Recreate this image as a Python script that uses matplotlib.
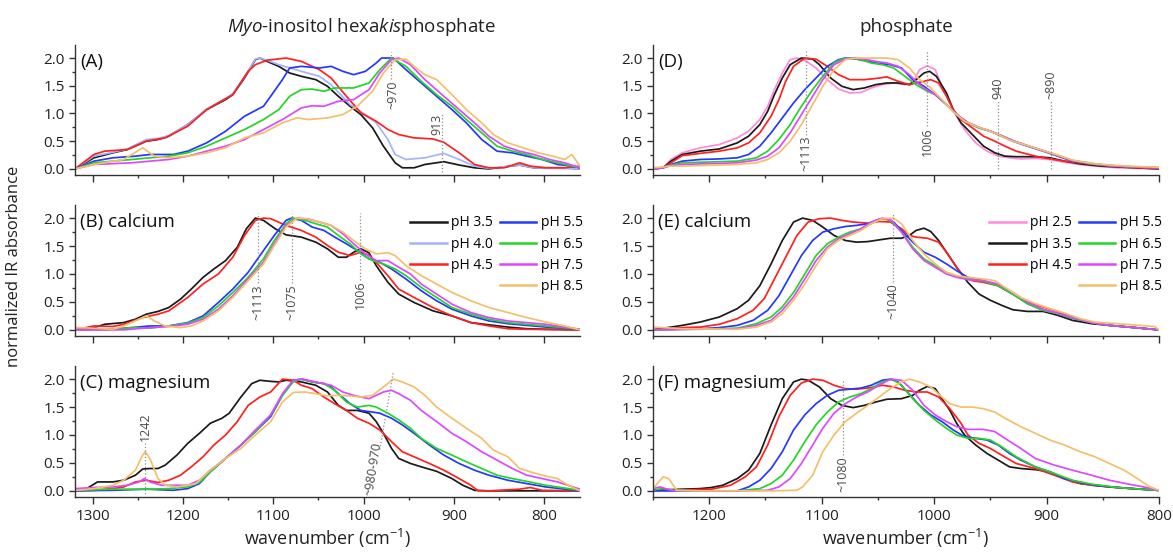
import matplotlib
matplotlib.use("Agg")
import matplotlib.pyplot as plt
from matplotlib.lines import Line2D
from matplotlib.ticker import MultipleLocator

plt.rcParams["font.family"] = ["Open Sans", "DejaVu Sans"]
plt.rcParams["mathtext.fontset"] = "custom"
plt.rcParams["mathtext.rm"] = "Open Sans"
plt.rcParams["mathtext.it"] = "Open Sans:italic"

# Spectra: (wavenumber cm-1, normalized IR absorbance)

# (A) myo-inositol hexakisphosphate
A_PH35 = [(1320, 0), (1299, 0.2), (1278, 0.29), (1262, 0.35), (1241, 0.5), (1228, 0.53), (1216, 0.59),
          (1195, 0.8), (1174, 1.07), (1153, 1.25), (1145, 1.34), (1132, 1.64), (1120, 1.97), (1115, 2.0),
          (1107, 1.94), (1094, 1.85), (1082, 1.73), (1069, 1.67), (1053, 1.61), (1040, 1.49), (1028, 1.31),
          (1015, 1.13), (1003, 0.98), (990, 0.74), (978, 0.41), (965, 0.11), (957, 0.02), (944, 0.02),
          (932, 0.08), (911, 0.13), (894, 0.07), (877, 0.02), (861, 0.0), (827, 0.07), (811, 0.02),
          (778, 0.02), (760, 0.0)]
A_PH40 = [(1320, 0), (1299, 0.23), (1278, 0.3), (1262, 0.36), (1241, 0.53), (1228, 0.55), (1216, 0.6),
          (1195, 0.8), (1174, 1.08), (1153, 1.27), (1145, 1.36), (1132, 1.66), (1120, 1.98), (1115, 2.0),
          (1107, 1.96), (1094, 1.88), (1069, 1.76), (1049, 1.67), (1036, 1.52), (1015, 1.16), (998, 0.98),
          (986, 0.83), (973, 0.53), (965, 0.26), (953, 0.17), (932, 0.2), (911, 0.28), (894, 0.17),
          (877, 0.05), (861, 0.01), (827, 0.07), (811, 0.02), (760, 0.0)]
A_PH45 = [(1320, 0), (1299, 0.26), (1287, 0.32), (1262, 0.35), (1241, 0.5), (1220, 0.56), (1195, 0.77),
          (1174, 1.07), (1145, 1.34), (1128, 1.76), (1120, 1.88), (1107, 1.96), (1086, 2.0), (1069, 1.94),
          (1049, 1.79), (1036, 1.64), (1019, 1.31), (1003, 1.01), (986, 0.86), (973, 0.71), (961, 0.62),
          (944, 0.56), (923, 0.54), (911, 0.48), (894, 0.29), (877, 0.08), (861, 0.02), (844, 0.02),
          (827, 0.11), (815, 0.05), (798, 0.02), (777, 0.02), (760, 0.05)]
A_PH55 = [(1320, 0), (1299, 0.14), (1278, 0.2), (1253, 0.23), (1237, 0.26), (1211, 0.26), (1195, 0.32),
          (1174, 0.47), (1153, 0.68), (1132, 0.95), (1111, 1.13), (1103, 1.31), (1090, 1.61), (1082, 1.82),
          (1069, 1.85), (1049, 1.82), (1036, 1.85), (1023, 1.76), (1011, 1.7), (998, 1.76), (986, 1.91),
          (980, 2.0), (967, 2.0), (953, 1.79), (936, 1.55), (919, 1.31), (902, 1.07), (886, 0.83),
          (869, 0.53), (852, 0.32), (835, 0.29), (819, 0.23), (802, 0.17), (785, 0.08), (769, 0.05),
          (760, 0.02)]
A_PH65 = [(1320, 0), (1299, 0.11), (1257, 0.17), (1216, 0.23), (1195, 0.29), (1174, 0.41), (1153, 0.56),
          (1132, 0.71), (1111, 0.89), (1094, 1.07), (1082, 1.31), (1069, 1.43), (1057, 1.44), (1044, 1.4),
          (1032, 1.46), (1011, 1.46), (994, 1.55), (982, 1.79), (969, 2.0), (953, 1.85), (936, 1.58),
          (919, 1.34), (902, 1.13), (886, 0.89), (869, 0.65), (852, 0.41), (835, 0.32), (819, 0.26),
          (802, 0.17), (785, 0.11), (760, 0.02)]
A_PH75 = [(1320, 0), (1299, 0.08), (1257, 0.11), (1216, 0.17), (1195, 0.23), (1174, 0.32), (1153, 0.41),
          (1132, 0.53), (1111, 0.71), (1090, 0.89), (1069, 1.1), (1057, 1.14), (1044, 1.13), (1028, 1.22),
          (1011, 1.25), (994, 1.43), (982, 1.73), (969, 1.97), (961, 2.0), (948, 1.88), (932, 1.61),
          (911, 1.31), (894, 1.07), (877, 0.83), (861, 0.59), (844, 0.41), (827, 0.32), (811, 0.26),
          (794, 0.17), (777, 0.11), (760, 0.02)]
A_PH85 = [(1320, 0), (1299, 0.08), (1266, 0.17), (1245, 0.38), (1232, 0.23), (1216, 0.2), (1195, 0.23),
          (1174, 0.29), (1153, 0.38), (1132, 0.56), (1111, 0.65), (1090, 0.83), (1074, 0.92), (1061, 0.89),
          (1040, 0.92), (1023, 0.98), (1007, 1.13), (990, 1.4), (978, 1.73), (965, 1.97), (953, 1.98),
          (944, 1.85), (932, 1.7), (919, 1.61), (902, 1.34), (886, 1.07), (869, 0.83), (856, 0.62),
          (840, 0.47), (823, 0.38), (806, 0.29), (790, 0.23), (777, 0.17), (769, 0.26), (760, 0.05)]

# (B) with calcium
B_PH35 = [(1320, 0), (1299, 0.04), (1287, 0.1), (1266, 0.13), (1253, 0.19), (1241, 0.28), (1228, 0.33),
          (1216, 0.4), (1203, 0.55), (1191, 0.73), (1178, 0.94), (1166, 1.09), (1153, 1.24), (1140, 1.48),
          (1130, 1.81), (1120, 2.0), (1111, 1.96), (1098, 1.81), (1086, 1.7), (1069, 1.66), (1053, 1.57),
          (1040, 1.45), (1028, 1.3), (1019, 1.3), (1011, 1.39), (1003, 1.45), (994, 1.38), (986, 1.15),
          (973, 0.85), (961, 0.64), (944, 0.49), (923, 0.34), (902, 0.25), (881, 0.13), (861, 0.09),
          (840, 0.05), (819, 0.02), (798, 0.01), (760, 0)]
B_PH45 = [(1320, 0), (1299, 0.07), (1278, 0.06), (1266, 0.1), (1245, 0.22), (1228, 0.28), (1216, 0.34),
          (1195, 0.58), (1178, 0.82), (1161, 1.0), (1145, 1.3), (1132, 1.69), (1120, 1.96), (1111, 2.0),
          (1103, 1.99), (1086, 1.87), (1069, 1.78), (1053, 1.66), (1040, 1.51), (1028, 1.39), (1015, 1.33),
          (1003, 1.39), (994, 1.34), (986, 1.21), (973, 0.97), (961, 0.73), (944, 0.58), (923, 0.4),
          (902, 0.25), (881, 0.13), (861, 0.07), (840, 0.02), (819, 0.01), (760, 0)]
B_PH55 = [(1320, 0), (1278, 0.01), (1237, 0.07), (1216, 0.07), (1195, 0.13), (1178, 0.25), (1161, 0.49),
          (1145, 0.73), (1128, 1.03), (1111, 1.42), (1099, 1.69), (1086, 1.96), (1080, 2.0), (1069, 1.96),
          (1057, 1.84), (1044, 1.78), (1032, 1.66), (1019, 1.54), (1007, 1.42), (994, 1.27), (982, 1.21),
          (969, 1.09), (953, 0.91), (936, 0.7), (919, 0.52), (902, 0.37), (881, 0.25), (861, 0.16),
          (840, 0.11), (819, 0.08), (798, 0.05), (760, 0.01)]
B_PH65 = [(1320, 0), (1278, 0.01), (1257, 0.04), (1237, 0.03), (1216, 0.07), (1195, 0.12), (1178, 0.22),
          (1161, 0.43), (1145, 0.67), (1128, 0.94), (1111, 1.27), (1099, 1.6), (1086, 1.9), (1078, 2.0),
          (1065, 1.96), (1053, 1.9), (1040, 1.84), (1028, 1.69), (1015, 1.54), (1003, 1.36), (990, 1.24),
          (978, 1.18), (965, 1.09), (953, 0.97), (936, 0.76), (919, 0.58), (902, 0.4), (881, 0.28),
          (861, 0.19), (840, 0.13), (819, 0.1), (798, 0.07), (760, 0.01)]
B_PH75 = [(1320, 0), (1266, 0), (1237, 0.04), (1216, 0.06), (1195, 0.1), (1178, 0.19), (1161, 0.37),
          (1145, 0.61), (1128, 0.91), (1111, 1.21), (1099, 1.54), (1086, 1.87), (1074, 2.0), (1061, 1.98),
          (1049, 1.93), (1036, 1.87), (1023, 1.72), (1011, 1.54), (998, 1.36), (986, 1.24), (973, 1.24),
          (961, 1.12), (948, 1.0), (936, 0.82), (919, 0.64), (902, 0.46), (881, 0.31), (861, 0.22),
          (840, 0.16), (819, 0.13), (798, 0.1), (760, 0.01)]
B_PH85 = [(1320, 0.04), (1299, 0.03), (1278, 0.01), (1266, 0.07), (1253, 0.16), (1241, 0.25), (1232, 0.16),
          (1220, 0.07), (1203, 0.04), (1191, 0.07), (1178, 0.16), (1161, 0.34), (1145, 0.58), (1128, 0.88),
          (1111, 1.18), (1099, 1.51), (1086, 1.84), (1074, 2.0), (1061, 1.99), (1049, 1.93), (1036, 1.87),
          (1023, 1.75), (1011, 1.6), (998, 1.45), (986, 1.36), (973, 1.38), (965, 1.33), (953, 1.15),
          (936, 0.97), (919, 0.82), (902, 0.67), (881, 0.52), (861, 0.4), (840, 0.31), (819, 0.22),
          (798, 0.14), (777, 0.07), (760, 0)]

# (C) with magnesium
C_PH35 = [(1320, 0), (1307, 0.04), (1295, 0.16), (1278, 0.16), (1266, 0.19), (1253, 0.28), (1245, 0.39),
          (1237, 0.4), (1228, 0.4), (1220, 0.46), (1207, 0.64), (1195, 0.85), (1182, 1.03), (1170, 1.21),
          (1157, 1.3), (1149, 1.39), (1136, 1.68), (1124, 1.92), (1115, 1.98), (1103, 1.96), (1094, 1.95),
          (1086, 1.98), (1069, 1.95), (1053, 1.89), (1040, 1.77), (1028, 1.53), (1019, 1.44), (1007, 1.44),
          (994, 1.39), (986, 1.24), (978, 1.03), (969, 0.76), (961, 0.58), (948, 0.49), (936, 0.43),
          (919, 0.35), (902, 0.22), (890, 0.1), (877, 0.01), (861, 0), (760, 0)]
C_PH45 = [(1320, 0), (1299, 0.01), (1278, 0.04), (1266, 0.07), (1253, 0.16), (1241, 0.19), (1228, 0.15),
          (1216, 0.19), (1203, 0.28), (1191, 0.43), (1178, 0.61), (1166, 0.82), (1153, 1.0), (1140, 1.24),
          (1128, 1.53), (1115, 1.68), (1103, 1.77), (1090, 2.0), (1078, 1.98), (1069, 1.89), (1057, 1.83),
          (1044, 1.68), (1032, 1.56), (1019, 1.44), (1007, 1.3), (994, 1.21), (982, 1.09), (969, 0.88),
          (957, 0.7), (944, 0.61), (927, 0.49), (911, 0.37), (894, 0.22), (881, 0.1), (873, 0), (861, 0),
          (827, 0.03), (815, 0.06), (802, 0.01), (760, 0)]
C_PH55 = [(1320, 0), (1278, 0.01), (1241, 0.03), (1211, 0.01), (1195, 0.04), (1182, 0.13), (1170, 0.34),
          (1153, 0.58), (1136, 0.82), (1120, 1.06), (1103, 1.33), (1090, 1.71), (1078, 1.98), (1069, 2.0),
          (1057, 1.95), (1044, 1.92), (1036, 1.86), (1028, 1.74), (1015, 1.56), (1003, 1.44), (990, 1.41),
          (982, 1.39), (969, 1.3), (957, 1.18), (944, 1.03), (927, 0.82), (911, 0.64), (894, 0.49),
          (877, 0.37), (861, 0.28), (840, 0.19), (819, 0.13), (798, 0.07), (760, 0)]
C_PH65 = [(1320, 0.01), (1278, 0.03), (1237, 0.03), (1216, 0.04), (1195, 0.07), (1182, 0.15), (1170, 0.34),
          (1153, 0.58), (1136, 0.82), (1120, 1.06), (1103, 1.36), (1090, 1.71), (1078, 1.95), (1069, 2.0),
          (1057, 1.95), (1044, 1.92), (1032, 1.8), (1019, 1.59), (1007, 1.5), (994, 1.53), (986, 1.5),
          (973, 1.39), (961, 1.27), (948, 1.12), (936, 0.94), (919, 0.76), (902, 0.64), (886, 0.52),
          (869, 0.4), (852, 0.28), (835, 0.22), (819, 0.17), (798, 0.1), (760, 0.01)]
C_PH75 = [(1320, 0.04), (1299, 0.06), (1278, 0.07), (1262, 0.1), (1249, 0.16), (1243, 0.22), (1237, 0.16),
          (1224, 0.1), (1207, 0.1), (1195, 0.1), (1182, 0.19), (1170, 0.37), (1153, 0.58), (1136, 0.82),
          (1120, 1.09), (1103, 1.36), (1090, 1.74), (1078, 1.98), (1067, 2.0), (1053, 1.95), (1036, 1.89),
          (1023, 1.77), (1011, 1.71), (1003, 1.68), (994, 1.65), (986, 1.71), (978, 1.77), (969, 1.8),
          (961, 1.74), (948, 1.62), (936, 1.44), (919, 1.24), (902, 1.03), (886, 0.88), (869, 0.7),
          (852, 0.55), (835, 0.4), (819, 0.28), (802, 0.22), (785, 0.16), (760, 0.03)]
C_PH85 = [(1320, 0.01), (1299, 0.04), (1278, 0.1), (1266, 0.19), (1253, 0.37), (1245, 0.64), (1242, 0.7),
          (1237, 0.58), (1228, 0.22), (1220, 0.1), (1207, 0.07), (1195, 0.1), (1186, 0.13), (1170, 0.37),
          (1153, 0.58), (1136, 0.76), (1120, 1.0), (1103, 1.24), (1090, 1.59), (1078, 1.76), (1065, 1.77),
          (1053, 1.74), (1040, 1.7), (1028, 1.71), (1015, 1.7), (1003, 1.68), (990, 1.71), (978, 1.86),
          (967, 2.0), (957, 1.95), (944, 1.86), (932, 1.71), (919, 1.5), (902, 1.3), (886, 1.12),
          (869, 0.94), (856, 0.73), (840, 0.61), (827, 0.4), (815, 0.34), (802, 0.28), (785, 0.22),
          (773, 0.1), (760, 0)]

# (D) phosphate
D_PH25 = [(1250, 0), (1241, 0.02), (1234, 0.17), (1224, 0.29), (1208, 0.38), (1191, 0.44), (1175, 0.56),
          (1165, 0.68), (1155, 0.89), (1148, 1.13), (1142, 1.43), (1135, 1.73), (1128, 1.97), (1122, 2.0),
          (1115, 1.96), (1105, 1.82), (1095, 1.61), (1085, 1.44), (1075, 1.37), (1065, 1.38), (1056, 1.46),
          (1046, 1.52), (1036, 1.55), (1026, 1.52), (1019, 1.55), (1013, 1.79), (1006, 1.86), (999, 1.79),
          (993, 1.49), (986, 1.19), (980, 0.95), (973, 0.71), (963, 0.47), (953, 0.32), (943, 0.23),
          (933, 0.2), (923, 0.18), (910, 0.19), (897, 0.17), (884, 0.12), (870, 0.08), (857, 0.05),
          (837, 0.02), (800, 0)]
D_PH35 = [(1250, 0), (1241, 0.02), (1234, 0.14), (1224, 0.26), (1208, 0.32), (1191, 0.36), (1175, 0.47),
          (1165, 0.59), (1155, 0.8), (1148, 1.04), (1142, 1.34), (1135, 1.64), (1128, 1.88), (1118, 2.0),
          (1108, 1.98), (1102, 1.88), (1092, 1.64), (1082, 1.49), (1072, 1.43), (1062, 1.46), (1052, 1.52),
          (1042, 1.55), (1032, 1.55), (1022, 1.52), (1016, 1.61), (1009, 1.73), (1004, 1.76), (998, 1.67),
          (989, 1.37), (983, 1.07), (976, 0.83), (966, 0.62), (956, 0.41), (946, 0.29), (937, 0.23),
          (927, 0.22), (910, 0.22), (897, 0.2), (884, 0.14), (870, 0.09), (851, 0.05), (800, 0)]
D_PH45 = [(1250, 0), (1241, 0.02), (1234, 0.11), (1224, 0.24), (1208, 0.28), (1191, 0.32), (1175, 0.38),
          (1165, 0.47), (1155, 0.65), (1145, 0.95), (1138, 1.25), (1132, 1.58), (1125, 1.85), (1115, 2.0),
          (1105, 1.98), (1095, 1.85), (1085, 1.7), (1075, 1.61), (1062, 1.61), (1052, 1.63), (1042, 1.66),
          (1032, 1.58), (1022, 1.52), (1016, 1.55), (1009, 1.58), (1003, 1.61), (996, 1.55), (989, 1.31),
          (983, 1.07), (976, 0.89), (966, 0.74), (956, 0.59), (946, 0.5), (937, 0.41), (927, 0.32),
          (910, 0.23), (897, 0.18), (884, 0.14), (867, 0.1), (844, 0.05), (800, 0)]
D_PH55 = [(1250, 0), (1241, 0.02), (1234, 0.08), (1224, 0.14), (1208, 0.17), (1191, 0.18), (1175, 0.2),
          (1165, 0.26), (1155, 0.41), (1145, 0.65), (1135, 0.92), (1125, 1.19), (1115, 1.43), (1105, 1.64),
          (1095, 1.85), (1085, 1.97), (1079, 2.0), (1069, 1.98), (1059, 1.94), (1049, 1.9), (1039, 1.88),
          (1029, 1.82), (1019, 1.61), (1009, 1.49), (999, 1.34), (989, 1.16), (980, 0.98), (970, 0.83),
          (960, 0.74), (950, 0.68), (940, 0.59), (930, 0.5), (917, 0.41), (903, 0.32), (890, 0.23),
          (877, 0.14), (860, 0.09), (844, 0.06), (827, 0.04), (800, 0.02)]
D_PH65 = [(1250, 0), (1241, 0.02), (1234, 0.07), (1224, 0.11), (1208, 0.12), (1175, 0.14), (1158, 0.2),
          (1148, 0.32), (1138, 0.53), (1128, 0.8), (1118, 1.13), (1108, 1.43), (1099, 1.67), (1089, 1.91),
          (1082, 1.98), (1075, 2.0), (1065, 1.97), (1056, 1.91), (1046, 1.88), (1036, 1.82), (1026, 1.67),
          (1016, 1.52), (1006, 1.4), (999, 1.34), (989, 1.16), (980, 0.98), (970, 0.83), (960, 0.74),
          (950, 0.68), (940, 0.6), (930, 0.51), (917, 0.42), (903, 0.33), (890, 0.24), (877, 0.15),
          (860, 0.09), (844, 0.06), (827, 0.04), (800, 0.02)]
D_PH75 = [(1250, 0), (1241, 0.02), (1234, 0.06), (1224, 0.08), (1208, 0.09), (1175, 0.11), (1158, 0.16),
          (1148, 0.23), (1138, 0.38), (1128, 0.65), (1118, 0.98), (1108, 1.31), (1099, 1.61), (1089, 1.88),
          (1079, 1.98), (1072, 2.0), (1062, 1.98), (1052, 1.94), (1042, 1.91), (1032, 1.85), (1022, 1.7),
          (1013, 1.52), (1006, 1.42), (999, 1.34), (989, 1.16), (980, 0.98), (970, 0.84), (960, 0.75),
          (950, 0.68), (940, 0.6), (930, 0.51), (917, 0.42), (903, 0.33), (890, 0.24), (877, 0.15),
          (860, 0.1), (844, 0.06), (827, 0.04), (800, 0.02)]
D_PH85 = [(1250, 0.02), (1234, 0.05), (1224, 0.05), (1208, 0.06), (1175, 0.08), (1158, 0.11), (1148, 0.17),
          (1138, 0.29), (1128, 0.5), (1118, 0.8), (1108, 1.16), (1099, 1.49), (1089, 1.79), (1079, 1.97),
          (1069, 2.0), (1056, 2.0), (1042, 2.0), (1032, 1.97), (1022, 1.82), (1013, 1.61), (1003, 1.46),
          (993, 1.25), (983, 1.03), (973, 0.86), (963, 0.77), (953, 0.7), (943, 0.62), (933, 0.52),
          (917, 0.42), (903, 0.33), (890, 0.25), (877, 0.16), (860, 0.1), (844, 0.07), (827, 0.05),
          (800, 0.03)]

# (E) phosphate with calcium
E_PH35 = [(1250, 0), (1224, 0.08), (1208, 0.14), (1191, 0.23), (1175, 0.38), (1165, 0.53), (1155, 0.79),
          (1145, 1.18), (1135, 1.6), (1125, 1.93), (1117, 2.0), (1108, 1.96), (1099, 1.84), (1089, 1.69),
          (1079, 1.6), (1069, 1.57), (1059, 1.58), (1049, 1.61), (1039, 1.64), (1029, 1.64), (1022, 1.69),
          (1016, 1.78), (1009, 1.82), (1003, 1.76), (996, 1.6), (989, 1.39), (980, 1.12), (970, 0.85),
          (960, 0.64), (950, 0.53), (940, 0.44), (930, 0.36), (917, 0.33), (903, 0.33), (890, 0.26),
          (877, 0.17), (860, 0.11), (844, 0.08), (827, 0.05), (800, 0)]
E_PH45 = [(1250, 0), (1224, 0.04), (1208, 0.05), (1191, 0.1), (1175, 0.2), (1161, 0.35), (1151, 0.56),
          (1142, 0.91), (1132, 1.3), (1122, 1.69), (1112, 1.93), (1102, 1.99), (1092, 2.0), (1082, 1.96),
          (1072, 1.93), (1059, 1.91), (1049, 1.94), (1039, 1.93), (1029, 1.81), (1022, 1.69), (1016, 1.66),
          (1006, 1.64), (996, 1.57), (989, 1.39), (980, 1.12), (973, 0.94), (966, 0.88), (956, 0.85),
          (943, 0.79), (930, 0.64), (917, 0.5), (903, 0.41), (890, 0.33), (877, 0.23), (860, 0.13),
          (844, 0.08), (827, 0.05), (800, 0)]
E_PH55 = [(1250, 0), (1208, 0.02), (1191, 0.04), (1175, 0.08), (1161, 0.17), (1148, 0.35), (1138, 0.61),
          (1128, 0.97), (1118, 1.33), (1108, 1.6), (1099, 1.75), (1089, 1.81), (1079, 1.85), (1069, 1.87),
          (1059, 1.9), (1049, 1.98), (1042, 1.99), (1036, 1.93), (1029, 1.78), (1019, 1.57), (1009, 1.39),
          (999, 1.3), (989, 1.18), (980, 1.06), (970, 0.94), (956, 0.88), (943, 0.79), (930, 0.64),
          (917, 0.47), (903, 0.35), (890, 0.29), (877, 0.21), (860, 0.13), (844, 0.08), (827, 0.05),
          (800, 0)]
E_PH65 = [(1250, 0), (1191, 0.02), (1175, 0.03), (1158, 0.11), (1145, 0.23), (1135, 0.41), (1125, 0.67),
          (1115, 1.0), (1105, 1.33), (1095, 1.54), (1085, 1.66), (1075, 1.75), (1065, 1.81), (1056, 1.9),
          (1047, 1.99), (1039, 1.96), (1029, 1.75), (1019, 1.48), (1009, 1.27), (999, 1.15), (989, 1.03),
          (980, 0.96), (970, 0.91), (956, 0.87), (943, 0.79), (930, 0.64), (917, 0.47), (903, 0.35),
          (890, 0.29), (877, 0.21), (860, 0.13), (844, 0.08), (827, 0.05), (800, 0)]
E_PH75 = [(1250, 0), (1175, 0.02), (1158, 0.08), (1145, 0.17), (1135, 0.35), (1125, 0.59), (1115, 0.91),
          (1105, 1.24), (1095, 1.48), (1085, 1.63), (1075, 1.72), (1065, 1.81), (1056, 1.93), (1046, 2.0),
          (1038, 1.96), (1029, 1.75), (1019, 1.45), (1009, 1.24), (999, 1.12), (989, 1.0), (980, 0.94),
          (970, 0.9), (956, 0.88), (943, 0.82), (930, 0.67), (917, 0.5), (903, 0.37), (890, 0.3),
          (877, 0.22), (860, 0.13), (844, 0.08), (827, 0.05), (800, 0)]
E_PH85 = [(1250, 0.05), (1241, 0.04), (1224, 0.02), (1175, 0.01), (1158, 0.05), (1145, 0.14), (1135, 0.29),
          (1125, 0.53), (1115, 0.82), (1105, 1.15), (1095, 1.45), (1085, 1.6), (1075, 1.69), (1065, 1.78),
          (1056, 1.9), (1046, 1.99), (1036, 2.0), (1029, 1.9), (1019, 1.6), (1009, 1.36), (999, 1.18),
          (989, 1.03), (980, 0.97), (970, 0.94), (956, 0.91), (946, 0.88), (937, 0.76), (923, 0.58),
          (910, 0.47), (897, 0.38), (884, 0.3), (870, 0.2), (857, 0.14), (837, 0.11), (817, 0.08),
          (804, 0.06), (800, 0)]

# (F) phosphate with magnesium
F_PH35 = [(1250, 0.01), (1224, 0.03), (1208, 0.04), (1198, 0.06), (1188, 0.1), (1175, 0.22), (1165, 0.37),
          (1155, 0.67), (1145, 1.18), (1135, 1.65), (1125, 1.95), (1118, 2.0), (1112, 1.98), (1102, 1.86),
          (1092, 1.65), (1082, 1.53), (1072, 1.49), (1062, 1.53), (1052, 1.59), (1042, 1.64), (1029, 1.65),
          (1019, 1.71), (1013, 1.8), (1006, 1.87), (999, 1.83), (993, 1.65), (986, 1.44), (980, 1.21),
          (973, 1.0), (963, 0.82), (953, 0.67), (943, 0.55), (933, 0.43), (923, 0.4), (910, 0.38),
          (897, 0.34), (884, 0.22), (870, 0.13), (857, 0.1), (844, 0.07), (824, 0.04), (801, 0.01)]
F_PH45 = [(1250, 0), (1198, 0.03), (1181, 0.1), (1168, 0.25), (1158, 0.43), (1148, 0.82), (1138, 1.33),
          (1128, 1.71), (1118, 1.93), (1108, 2.0), (1099, 1.98), (1089, 1.89), (1079, 1.83), (1069, 1.82),
          (1059, 1.84), (1046, 1.89), (1036, 1.86), (1026, 1.8), (1016, 1.77), (1006, 1.77), (996, 1.68),
          (986, 1.47), (976, 1.21), (970, 1.0), (960, 0.85), (950, 0.76), (940, 0.64), (927, 0.49),
          (910, 0.4), (893, 0.28), (877, 0.16), (860, 0.1), (844, 0.07), (824, 0.04), (801, 0.01)]
F_PH55 = [(1250, 0), (1175, 0), (1165, 0.07), (1155, 0.19), (1145, 0.4), (1135, 0.7), (1125, 1.09),
          (1115, 1.36), (1105, 1.56), (1095, 1.71), (1085, 1.8), (1075, 1.82), (1065, 1.84), (1056, 1.89),
          (1046, 1.98), (1039, 2.0), (1032, 1.95), (1022, 1.73), (1013, 1.53), (1003, 1.36), (993, 1.24),
          (983, 1.09), (973, 0.97), (963, 0.94), (953, 0.91), (943, 0.82), (933, 0.67), (923, 0.55),
          (910, 0.43), (897, 0.34), (884, 0.22), (870, 0.15), (857, 0.1), (837, 0.06), (801, 0.01)]
F_PH65 = [(1250, 0.02), (1241, 0.04), (1231, 0.01), (1208, 0), (1175, 0), (1155, 0.04), (1145, 0.13),
          (1135, 0.28), (1125, 0.55), (1115, 0.88), (1105, 1.18), (1095, 1.41), (1085, 1.59), (1075, 1.68),
          (1065, 1.74), (1056, 1.83), (1046, 1.95), (1037, 2.0), (1029, 1.89), (1019, 1.65), (1009, 1.44),
          (999, 1.27), (989, 1.12), (980, 1.0), (970, 0.94), (960, 0.94), (950, 0.91), (940, 0.79),
          (927, 0.61), (910, 0.43), (893, 0.31), (877, 0.19), (860, 0.12), (837, 0.06), (801, 0.01)]
F_PH75 = [(1250, 0.04), (1244, 0.07), (1237, 0.03), (1231, 0), (1175, 0), (1148, 0.01), (1138, 0.07),
          (1128, 0.22), (1118, 0.49), (1108, 0.82), (1099, 1.12), (1089, 1.39), (1079, 1.56), (1069, 1.68),
          (1059, 1.77), (1049, 1.89), (1039, 2.0), (1029, 1.98), (1019, 1.8), (1009, 1.53), (999, 1.36),
          (989, 1.24), (980, 1.15), (970, 1.1), (956, 1.1), (946, 1.06), (937, 0.94), (923, 0.76),
          (910, 0.58), (893, 0.46), (877, 0.37), (860, 0.28), (844, 0.19), (827, 0.12), (811, 0.06),
          (801, 0.01)]
F_PH85 = [(1250, 0.04), (1241, 0.25), (1236, 0.22), (1229, 0.01), (1208, 0), (1175, 0), (1142, 0),
          (1122, 0.01), (1117, 0.07), (1108, 0.28), (1099, 0.7), (1089, 1.0), (1079, 1.24), (1069, 1.39),
          (1059, 1.53), (1049, 1.68), (1039, 1.83), (1029, 1.95), (1022, 2.0), (1013, 1.95), (1003, 1.86),
          (993, 1.68), (986, 1.56), (976, 1.5), (966, 1.5), (956, 1.47), (946, 1.41), (937, 1.3),
          (923, 1.15), (910, 1.03), (897, 0.91), (884, 0.82), (870, 0.7), (857, 0.61), (844, 0.49),
          (831, 0.37), (817, 0.19), (808, 0.07), (801, 0.02)]

# Line colour for each pH
PH_COLORS = {
    "2.5": "#ff8ad8",
    "3.5": "#1a1a1a",
    "4.0": "#a3b3ff",
    "4.5": "#ff2020",
    "5.5": "#2438ff",
    "6.5": "#25d425",
    "7.5": "#dd48ff",
    "8.5": "#f2c06a",
}

LEFT_XLIM = (1320, 760)
RIGHT_XLIM = (1250, 800)
YLIM = (-0.11, 2.235)
MARK_COLOR = "#8c8c8c"
TEXT_GRAY = "#4a4a4a"


def setup_axes(ax, xlim, show_xlabels):
    ax.set_xlim(*xlim)
    ax.set_ylim(*YLIM)
    for side in ("top", "right"):
        ax.spines[side].set_visible(False)
    for side in ("left", "bottom"):
        ax.spines[side].set_color("#333333")
        ax.spines[side].set_linewidth(1.0)
    ax.xaxis.set_major_locator(MultipleLocator(100))
    ax.xaxis.set_minor_locator(MultipleLocator(50))
    ax.yaxis.set_major_locator(MultipleLocator(0.5))
    ax.yaxis.set_minor_locator(MultipleLocator(0.25))
    ax.yaxis.set_major_formatter(plt.FormatStrFormatter("%.1f"))
    ax.tick_params(axis="both", which="major", direction="out", color="#333333",
                   labelsize=11, labelcolor="#222222", width=1.0)
    ax.tick_params(axis="both", which="minor", direction="out", color="#333333", width=1.0)
    ax.tick_params(axis="x", which="major", length=5, pad=4)
    ax.tick_params(axis="x", which="minor", length=2.5)
    ax.tick_params(axis="y", which="major", length=4.5, pad=3)
    ax.tick_params(axis="y", which="minor", length=2.5)
    if not show_xlabels:
        ax.tick_params(axis="x", labelbottom=False)
    else:
        ax.set_xlabel(r"wavenumber (cm$^{-1}$)", fontsize=13, color="#222222", labelpad=2)


def draw_spectra(ax, series):
    for ph, pts in series:
        wn = [p[0] for p in pts]
        ab = [p[1] for p in pts]
        ax.plot(wn, ab, color=PH_COLORS[ph], lw=1.25, solid_joinstyle="round")


def mark(ax, x, y0, y1, label, ty, va, dx=0.0):
    ax.plot([x, x], [y0, y1], color=MARK_COLOR, ls=":", lw=0.9)
    ax.text(x + dx, ty, label, rotation=90, ha="center", va=va,
            fontsize=9, color=TEXT_GRAY)


def add_legend(ax, phs):
    handles = []
    labels = []
    for ph in phs:
        if ph is None:
            handles.append(Line2D([], [], linestyle="none"))
            labels.append(" ")
        else:
            handles.append(Line2D([], [], color=PH_COLORS[ph], lw=1.8))
            labels.append("pH " + ph)
    ax.legend(handles, labels, ncol=2, loc="upper right", bbox_to_anchor=(1.005, 0.92),
              frameon=False, fontsize=10, handlelength=2.6, handletextpad=0.35,
              columnspacing=0.45, labelspacing=0.45, borderaxespad=0, borderpad=0)


def panel_label(ax, text):
    ax.text(0.01, 0.94, text, transform=ax.transAxes, ha="left", va="top",
            fontsize=13.5, color="#111111")


fig = plt.figure(figsize=(11.73, 5.54), dpi=100)

W, H = 1173, 554
left_x, right_x = 75 / W, 653 / W
left_w, right_w = 505 / W, 506 / W
rows = [(175, 130), (336, 131), (497, 131)]

axes = {}
for key, col in (("A", 0), ("B", 0), ("C", 0), ("D", 1), ("E", 1), ("F", 1)):
    r = "ABCDEF".index(key) % 3
    bottom_px, height_px = rows[r]
    x0, w = (left_x, left_w) if col == 0 else (right_x, right_w)
    axes[key] = fig.add_axes([x0, 1 - bottom_px / H, w, height_px / H])

# Left column: myo-inositol hexakisphosphate
draw_spectra(axes["A"], [("3.5", A_PH35), ("4.0", A_PH40), ("4.5", A_PH45), ("5.5", A_PH55),
                         ("6.5", A_PH65), ("7.5", A_PH75), ("8.5", A_PH85)])
draw_spectra(axes["B"], [("3.5", B_PH35), ("4.5", B_PH45), ("5.5", B_PH55), ("6.5", B_PH65),
                         ("7.5", B_PH75), ("8.5", B_PH85)])
draw_spectra(axes["C"], [("3.5", C_PH35), ("4.5", C_PH45), ("5.5", C_PH55), ("6.5", C_PH65),
                         ("7.5", C_PH75), ("8.5", C_PH85)])

# Right column: phosphate
draw_spectra(axes["D"], [("2.5", D_PH25), ("3.5", D_PH35), ("4.5", D_PH45), ("5.5", D_PH55),
                         ("6.5", D_PH65), ("7.5", D_PH75), ("8.5", D_PH85)])
draw_spectra(axes["E"], [("3.5", E_PH35), ("4.5", E_PH45), ("5.5", E_PH55), ("6.5", E_PH65),
                         ("7.5", E_PH75), ("8.5", E_PH85)])
draw_spectra(axes["F"], [("3.5", F_PH35), ("4.5", F_PH45), ("5.5", F_PH55), ("6.5", F_PH65),
                         ("7.5", F_PH75), ("8.5", F_PH85)])

for key in "ABCDEF":
    xlim = LEFT_XLIM if key in "ABC" else RIGHT_XLIM
    setup_axes(axes[key], xlim, key in "CF")

panel_label(axes["A"], "(A)")
panel_label(axes["B"], "(B) calcium")
panel_label(axes["C"], "(C) magnesium")
panel_label(axes["D"], "(D)")
panel_label(axes["E"], "(E) calcium")
panel_label(axes["F"], "(F) magnesium")

# band markers
mark(axes["A"], 970, 1.62, 2.1, "~970", 1.6, "top", dx=-3)
mark(axes["A"], 913, -0.05, 1.0, "913", 0.99, "top", dx=6)
mark(axes["B"], 1117, 0.84, 2.1, "~1113", 0.82, "top")
mark(axes["B"], 1079, 0.84, 2.1, "~1075", 0.82, "top")
mark(axes["B"], 1004, 0.9, 2.1, "1006", 0.88, "top")
mark(axes["C"], 1242, -0.05, 0.88, "1242", 0.9, "bottom")
axes["C"].plot([982, 967], [0.74, 2.13], color=MARK_COLOR, ls=":", lw=0.9)
axes["C"].text(989, 0.4, "~980-970", rotation=81, ha="center", va="center",
               fontsize=9, color=TEXT_GRAY)
mark(axes["D"], 1114, 0.62, 2.12, "~1113", 0.6, "top")
mark(axes["D"], 1006, 0.77, 2.12, "1006", 0.75, "top")
mark(axes["D"], 943, 0.0, 1.24, "940", 1.26, "bottom")
mark(axes["D"], 896, 0.0, 1.24, "~890", 1.26, "bottom")
mark(axes["E"], 1037, 0.86, 2.1, "~1040", 0.84, "top")
mark(axes["F"], 1081, 0.64, 2.0, "~1080", 0.62, "top")

add_legend(axes["B"], ["3.5", "4.0", "4.5", None, "5.5", "6.5", "7.5", "8.5"])
add_legend(axes["E"], ["2.5", "3.5", "4.5", None, "5.5", "6.5", "7.5", "8.5"])

fig.text(361 / W, 1 - 27 / H, r"$\mathit{Myo}$-inositol hexa$\mathit{kis}$phosphate",
         ha="center", va="center", fontsize=13.5, color="#222222")
fig.text(906 / W, 1 - 27 / H, "phosphate", ha="center", va="center", fontsize=13.5, color="#222222")
fig.text(14 / W, 1 - 266 / H, "normalized IR absorbance", rotation=90, ha="center", va="center",
         fontsize=12, color="#222222")

fig.savefig("out.png", dpi=100)
